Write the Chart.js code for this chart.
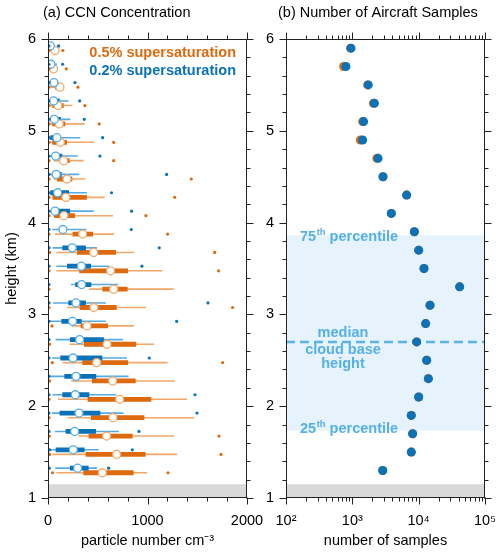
<!DOCTYPE html>
<html><head><meta charset="utf-8">
<script src="https://cdn.jsdelivr.net/npm/chart.js@4.4.1/dist/chart.umd.min.js"></script>
<style>
html,body{margin:0;padding:0;background:#fff;width:500px;height:555px;overflow:hidden;}
#wrap{position:relative;width:500px;height:555px;}
canvas{position:absolute;top:0;}
#cA{left:0;z-index:1;} #cB{left:250px;z-index:2;}
</style></head><body>
<div id="wrap"><canvas id="cA" width="270" height="555"></canvas><canvas id="cB" width="250" height="555"></canvas></div>
<script>
// ---------- data ----------
const heights = [1.3,1.5,1.7,1.9,2.1,2.3,2.5,2.7,2.9,3.1,3.3,3.5,3.7,3.9,4.1,4.3,4.5,4.7,4.9,5.1,5.3,5.5,5.7,5.9];

// 0.2% supersaturation (blue)
const blueMin  = [13,16,10,10,10,10,10,10,10,10,10,10,10,10,10,10,10,10,10,10,10,10,10,10];
const blueLow  = [73,20,70,40,46,23,40,77,20,50,231,83,46,43,23,10,10,10,10,10,10,10,10,10];
const blueQ1   = [221,77,177,117,144,164,124,221,134,204,274,191,144,110,43,23,43,43,23,23,23,23,15,15];
const blueMed  = [298,254,268,311,274,281,251,318,247,281,338,335,244,150,70,97,83,77,90,63,56,60,30,23];
const blueQ3   = [408,368,482,526,415,485,546,562,338,381,435,432,381,191,221,211,137,144,107,130,117,83,50,40];
const blueHigh = [492,509,713,760,686,810,794,753,582,582,703,616,492,385,459,391,315,298,325,224,207,107,90,56];
const blueMax  = [609,847,914,1497,1477,null,1018,null,1293,1608,null,944,1118,837,840,639,1192,522,549,365,318,271,147,107];

// 0.5% supersaturation (orange)
const orangeMin  = [46,16,13,10,10,16,43,16,40,10,10,10,16,10,10,10,10,10,10,10,10,10,10,10];
const orangeLow  = [83,43,308,197,100,231,147,217,241,191,415,83,83,70,56,43,56,56,23,23,23,23,23,23];
const orangeQ1   = [355,378,408,432,398,442,345,361,328,318,546,314,291,247,63,46,90,124,43,43,43,70,23,40];
const orangeMed  = [546,690,589,653,720,650,489,593,392,462,660,629,459,348,160,180,191,157,124,113,100,120,56,70];
const orangeQ3   = [860,981,850,968,1038,881,804,887,603,690,800,804,683,452,271,391,244,217,191,174,157,144,77,90];
const orangeHigh = [995,1296,1269,1470,1397,1273,1202,1068,864,984,1263,1149,864,663,653,569,375,358,462,368,247,157,97,110];
const orangeMax  = [1206,1738,1718,null,null,null,1755,null,null,1855,null,1715,1675,1202,984,1273,1440,660,660,515,371,301,184,150];

// number of aircraft samples
const samples02 = [2870,7740,8110,7740,10000,14000,13200,9330,12750,14830,41500,12030,10000,8610,3870,6590,2900,2440,1430,1480,2150,1740,800,955];
const samples05 = [2870,7740,8110,7740,10000,14000,13200,9330,12750,14830,41500,12030,10000,8610,3870,6590,2900,2340,1320,1430,2080,1700,740,940];

// cloud base statistics (km)
const cloudBase25 = 1.736;
const cloudBaseMedian = 2.698;
const cloudBase75 = 3.862;
const groundTop = 1.15;

// ticks
const xTicksA = [0,1000,2000];
const xMinorA = [200,400,600,800,1200,1400,1600,1800];
const xTicksB = [100,1000,10000,100000];
const xMinorB = [200,300,400,500,600,700,800,900,2000,3000,4000,5000,6000,7000,8000,9000,20000,30000,40000,50000,60000,70000,80000,90000];
const yTicks = [1,2,3,4,5,6];
const yMinor = [1.2,1.4,1.6,1.8,2.2,2.4,2.6,2.8,3.2,3.4,3.6,3.8,4.2,4.4,4.6,4.8,5.2,5.4,5.6,5.8];

// ---------- styles ----------
const FONT = "'Liberation Sans', Arial, Helvetica, sans-serif";
Chart.defaults.font.family = FONT;
Chart.defaults.color = '#000';
const blueDark = '#0b72b8', blueLight = '#55abe4';
const orangeDark = '#dd6a0e', orangeLight = '#f0a86a';
const annColor = '#55b0e6';
const OFF = 0.025;

function segs(lo, hi, off) {
  const pts = [];
  heights.forEach((h, i) => {
    pts.push({x: lo[i], y: h + off}, {x: hi[i], y: h + off}, {x: hi[i], y: null});
  });
  return pts;
}
function lineDs(data, color, width, order) {
  return {data, showLine: true, borderColor: color, borderWidth: width, pointRadius: 0,
          pointHoverRadius: 0, borderCapStyle: 'butt', spanGaps: false, fill: false, order};
}
function ptsDs(xs, off, r, bg, border, bw, order) {
  const data = [];
  heights.forEach((h, i) => { if (xs[i] != null) data.push({x: xs[i], y: h + off}); });
  return {data, showLine: false, pointRadius: r, pointHoverRadius: r, backgroundColor: bg,
          borderColor: border, borderWidth: bw, order};
}
function bandDs(x0, x1, yv, fill, color, order) {
  return {data: [{x: x0, y: yv}, {x: x1, y: yv}], showLine: true, borderWidth: 0,
          borderColor: 'rgba(0,0,0,0)', pointRadius: 0, fill, backgroundColor: color, order};
}
function samplesDs(xs, color, order) {
  return {data: heights.map((h, i) => ({x: xs[i], y: h})), showLine: false,
          pointRadius: 4.5, pointHoverRadius: 4.5, backgroundColor: color, borderWidth: 0, order};
}

function framePlugin(xMajor, xMinor, title, titleX) {
  return {
    id: 'frame',
    afterDraw(chart) {
      const {ctx, chartArea: a, scales: {x, y}} = chart;
      ctx.save();
      ctx.strokeStyle = '#222';
      ctx.lineWidth = 1;
      const L = Math.round(a.left) + 0.5, R = Math.round(a.right) - 0.5;
      const T = Math.round(a.top) + 0.5, B = Math.round(a.bottom) - 0.5;
      ctx.strokeRect(L, T, R - L, B - T);
      ctx.beginPath();
      const tickX = (v, len) => {
        const p = Math.round(x.getPixelForValue(v)) + 0.5;
        ctx.moveTo(p, B); ctx.lineTo(p, B + len);
        ctx.moveTo(p, T); ctx.lineTo(p, T - len);
      };
      const tickY = (v, len) => {
        const p = Math.round(y.getPixelForValue(v)) + 0.5;
        ctx.moveTo(L, p); ctx.lineTo(L - len, p);
        ctx.moveTo(R, p); ctx.lineTo(R + len, p);
      };
      xMajor.forEach(v => tickX(v, 7));
      xMinor.forEach(v => tickX(v, 4));
      yTicks.forEach(v => tickY(v, 7));
      yMinor.forEach(v => tickY(v, 4));
      ctx.stroke();
      ctx.fillStyle = '#000';
      ctx.font = '14.5px ' + FONT;
      ctx.textAlign = 'left';
      ctx.textBaseline = 'middle';
      ctx.fillText(title, titleX, 12.5);
      ctx.restore();
    }
  };
}

function yScale(width, withTitle) {
  return {
    type: 'linear', min: 1, max: 6, position: 'left',
    grid: {display: false, drawTicks: false}, border: {display: false},
    ticks: {padding: 12, font: {size: 14.5}, color: '#000'},
    afterBuildTicks: s => { s.ticks = yTicks.map(v => ({value: v})); },
    afterFit: s => { s.width = width; s.paddingTop = 0; s.paddingBottom = 0; },
    title: {display: withTitle, text: 'height (km)', font: {size: 14.5}, color: '#000', padding: {top: 3, bottom: 0}}
  };
}

// ---------- panel (a) ----------
const legendPlugin = {
  id: 'legendText',
  afterDatasetsDraw(chart) {
    const {ctx} = chart;
    ctx.save();
    ctx.font = 'bold 14.5px ' + FONT;
    ctx.textAlign = 'right';
    ctx.textBaseline = 'middle';
    ctx.fillStyle = orangeDark;
    ctx.fillText('0.5% supersaturation', 236, 53);
    ctx.fillStyle = blueDark;
    ctx.fillText('0.2% supersaturation', 236, 71);
    ctx.restore();
  }
};

new Chart(document.getElementById('cA'), {
  type: 'scatter',
  data: {datasets: [
    bandDs(0, 2000, groundTop, 'start', '#d9d9d9', 30),
    lineDs(segs(blueLow, blueHigh, OFF), blueLight, 1.6, 20),
    lineDs(segs(orangeLow, orangeHigh, -OFF), orangeLight, 1.6, 20),
    lineDs(segs(blueQ1, blueQ3, OFF), blueDark, 4.8, 15),
    lineDs(segs(orangeQ1, orangeQ3, -OFF), orangeDark, 4.8, 15),
    ptsDs(blueMed, OFF, 4, '#fff', blueLight, 1.3, 10),
    ptsDs(orangeMed, -OFF, 4, '#fff', orangeLight, 1.3, 10),
    ptsDs(blueMin, OFF, 1.6, blueDark, blueDark, 0, 5),
    ptsDs(orangeMin, -OFF, 1.6, orangeDark, orangeDark, 0, 5),
    ptsDs(blueMax, OFF, 1.6, blueDark, blueDark, 0, 5),
    ptsDs(orangeMax, -OFF, 1.6, orangeDark, orangeDark, 0, 5)
  ]},
  options: {
    responsive: false, animation: false, devicePixelRatio: 1,
    layout: {padding: {top: 39, right: 23, left: 0, bottom: 0}},
    plugins: {legend: {display: false}, tooltip: {enabled: false}},
    scales: {
      x: {
        type: 'linear', min: 0, max: 2000, position: 'bottom',
        grid: {display: false, drawTicks: false}, border: {display: false},
        ticks: {padding: 14, font: {size: 14.5}, color: '#000', maxRotation: 0, autoSkip: false, callback: v => String(v)},
        afterBuildTicks: s => { s.ticks = xTicksA.map(v => ({value: v})); },
        afterFit: s => { s.height = 57; s.paddingLeft = 0; s.paddingRight = 0; },
        title: {display: true, text: 'particle number cm\u207B\u00B3', font: {size: 14.5}, color: '#000', padding: {top: 0, bottom: 5}}
      },
      y: yScale(48, true)
    }
  },
  plugins: [framePlugin(xTicksA, xMinorA, '(a) CCN Concentration', 43), legendPlugin]
});

// ---------- panel (b) ----------
const sup = {2: '\u00B2', 3: '\u00B3', 4: '\u2074', 5: '\u2075'};
const annPlugin = {
  id: 'ann',
  afterDatasetsDraw(chart) {
    const {ctx, chartArea: a, scales: {y}} = chart;
    ctx.save();
    ctx.fillStyle = annColor;
    ctx.textBaseline = 'middle';
    const bold = 'bold 14.5px ' + FONT;
    const pct = (num, yy) => {
      let x = a.left + 14;
      ctx.textAlign = 'left';
      ctx.font = bold; ctx.fillText(num, x, yy); x += ctx.measureText(num).width + 0.5;
      ctx.font = 'bold 9.5px ' + FONT; ctx.fillText('th', x, yy - 5); x += ctx.measureText('th').width;
      ctx.font = bold; ctx.fillText(' percentile', x, yy);
    };
    pct('75', y.getPixelForValue(cloudBase75) + 2);
    pct('25', y.getPixelForValue(cloudBase25) - 1);
    ctx.font = bold;
    ctx.textAlign = 'center';
    const ym = y.getPixelForValue(cloudBaseMedian);
    const cx = a.left + 57;
    ctx.fillText('median', cx, ym - 9);
    ctx.fillText('cloud base', cx, ym + 8);
    ctx.fillText('height', cx, ym + 22);
    ctx.restore();
  }
};

new Chart(document.getElementById('cB'), {
  type: 'scatter',
  data: {datasets: [
    bandDs(100, 100000, cloudBase75, {value: cloudBase25}, '#e6f3fd', 40),
    bandDs(100, 100000, groundTop, 'start', '#d9d9d9', 30),
    {data: [{x: 100, y: cloudBaseMedian}, {x: 100000, y: cloudBaseMedian}], showLine: true,
     borderColor: '#5ab4e8', borderWidth: 2.5, borderDash: [9, 5], pointRadius: 0, fill: false, order: 25},
    samplesDs(samples05, orangeDark, 10),
    samplesDs(samples02, blueDark, 5)
  ]},
  options: {
    responsive: false, animation: false, devicePixelRatio: 1,
    layout: {padding: {top: 39, right: 15, left: 0, bottom: 0}},
    plugins: {legend: {display: false}, tooltip: {enabled: false}},
    scales: {
      x: {
        type: 'logarithmic', min: 100, max: 100000, position: 'bottom',
        grid: {display: false, drawTicks: false}, border: {display: false},
        ticks: {padding: 14, font: {size: 14.5}, color: '#000', maxRotation: 0, autoSkip: false,
                callback: v => '10' + sup[Math.round(Math.log10(v))]},
        afterBuildTicks: s => { s.ticks = xTicksB.map(v => ({value: v})); },
        afterFit: s => { s.height = 57; s.paddingLeft = 0; s.paddingRight = 0; },
        title: {display: true, text: 'number of samples', font: {size: 14.5}, color: '#000', padding: {top: 0, bottom: 5}}
      },
      y: yScale(36, false)
    }
  },
  plugins: [annPlugin, framePlugin(xTicksB, xMinorB, '(b) Number of Aircraft Samples', 28)]
});
</script>
</body></html>
